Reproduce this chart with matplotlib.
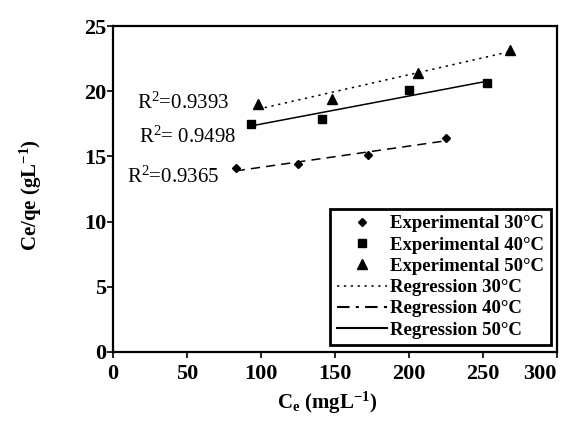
import matplotlib
matplotlib.use("Agg")
import matplotlib.pyplot as plt
from matplotlib.lines import Line2D
import numpy as np

plt.rcParams['font.family'] = ['Liberation Serif', 'DejaVu Serif']
plt.rcParams['mathtext.fontset'] = 'custom'
plt.rcParams['mathtext.rm'] = 'Liberation Serif'
plt.rcParams['mathtext.bf'] = 'Liberation Serif:bold'
plt.rcParams['mathtext.default'] = 'regular'

# experimental points
ce_30 = [83, 125, 172, 225]
ratio_30 = [14.1, 14.4, 15.1, 16.4]

ce_40 = [93, 141, 200, 253]
ratio_40 = [17.5, 17.9, 20.1, 20.6]

ce_50 = [98, 148, 206, 268]
ratio_50 = [19.0, 19.4, 21.4, 23.2]

r2_labels = ['R$^2$=0.9393', 'R$^2$= 0.9498', 'R$^2$=0.9365']
r2_pos = [(16, 19.1), (17.5, 16.5), (9.5, 13.4)]

fig = plt.figure(figsize=(5.62, 4.34), dpi=100)
ax = fig.add_axes([0.201, 0.189, 0.790, 0.751])

ax.plot(ce_30, ratio_30, 'D', color='black', markersize=4.5)
ax.plot(ce_40, ratio_40, 's', color='black', markersize=5.5)
ax.plot(ce_50, ratio_50, '^', color='black', markersize=6.5)

# linear fits, drawn over the span of each series
for x, y, ls in [(ce_30, ratio_30, (0, (6, 4))),
                 (ce_40, ratio_40, '-'),
                 (ce_50, ratio_50, (0, (1.5, 3)))]:
    k, b = np.polyfit(x, y, 1)
    xs = np.array([min(x), max(x)])
    ax.plot(xs, k * xs + b, color='black', linestyle=ls, linewidth=1.1)

for txt, (tx, ty) in zip(r2_labels, r2_pos):
    ax.text(tx, ty, txt, fontsize=15, ha='left', va='center')

ax.set_xlim(0, 300)
ax.set_ylim(0, 25)
ax.set_xticks([0, 50, 100, 150, 200, 250, 300])
ax.set_yticks([0, 5, 10, 15, 20, 25])
ax.tick_params(direction='out', length=4, width=1.2, color='black')
xlabs = ax.get_xticklabels()
for lab in xlabs:
    lab.set_fontsize(16)
    lab.set_fontweight('bold')
xlabs[-1].set_horizontalalignment('right')
for lab in ax.get_yticklabels():
    lab.set_fontsize(16)
    lab.set_fontweight('bold')
ax.tick_params(axis='x', pad=5)
ax.tick_params(axis='y', pad=1)
for sp in ax.spines.values():
    sp.set_linewidth(1.6)

fig.text(0.582, 0.072, 'C$_e$ (mgL$^{-1}$)', fontsize=15, fontweight='bold',
         ha='center', va='center')
fig.text(0.055, 0.55, 'Ce/qe (gL$^{-1}$)', fontsize=15, fontweight='bold',
         ha='center', va='center', rotation=90)

handles = [
    Line2D([], [], marker='D', color='black', linestyle='none', markersize=4.5),
    Line2D([], [], marker='s', color='black', linestyle='none', markersize=5.5),
    Line2D([], [], marker='^', color='black', linestyle='none', markersize=6.5),
    Line2D([], [], color='black', linestyle=(0, (1.5, 3)), linewidth=1.1),
    Line2D([], [], color='black', linestyle=(0, (6, 3, 1.5, 3)), linewidth=1.5),
    Line2D([], [], color='black', linestyle='-', linewidth=1.5),
]
labels = ['Experimental 30°C', 'Experimental 40°C', 'Experimental 50°C',
          'Regression 30°C', 'Regression 40°C', 'Regression 50°C']
leg = ax.legend(handles, labels, loc='lower right', bbox_to_anchor=(0.986, 0.021),
                borderaxespad=0, fancybox=False, edgecolor='black',
                prop={'weight': 'bold', 'size': 13.5}, labelspacing=0.22,
                handlelength=2.7, handletextpad=0.15, borderpad=0.35)
leg.get_frame().set_linewidth(2.0)
leg.get_frame().set_alpha(1)

fig.savefig('out.png', dpi=100)
